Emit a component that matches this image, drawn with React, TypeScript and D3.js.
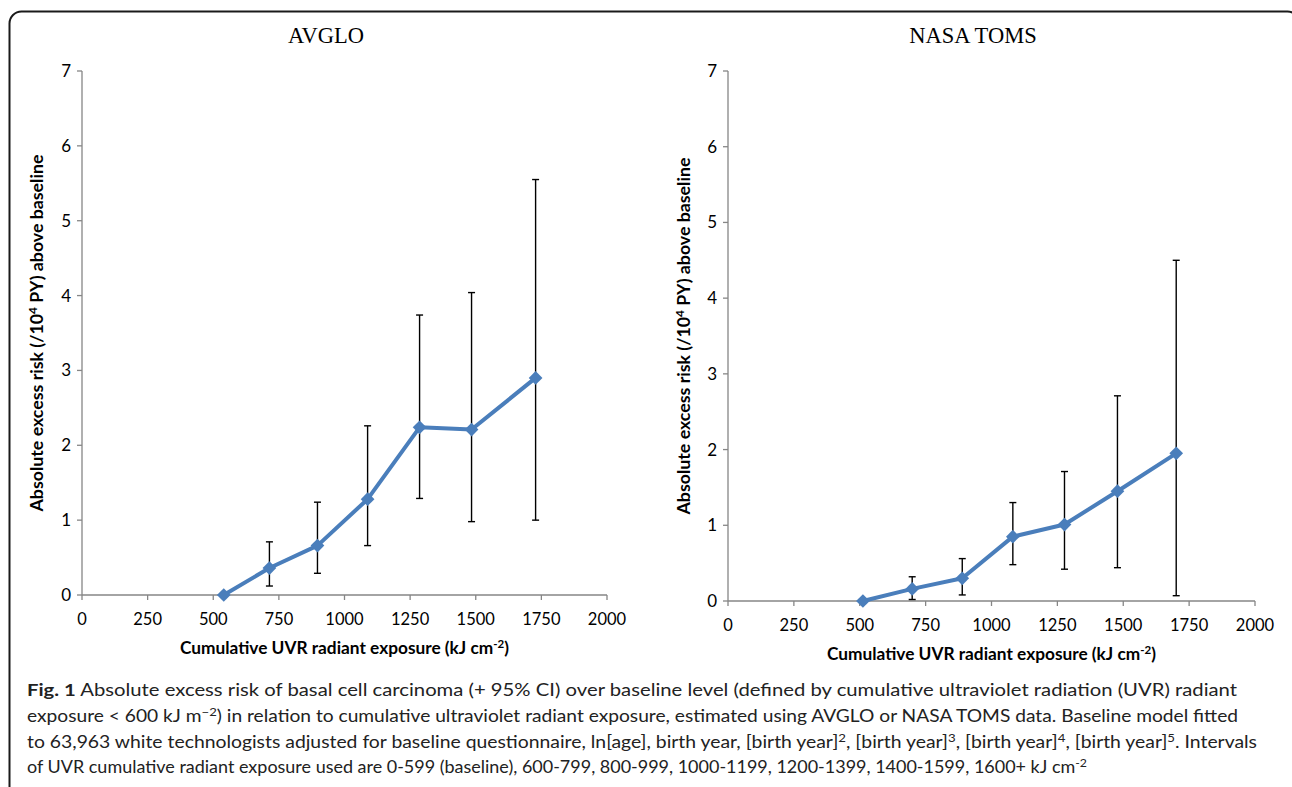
import React from "react";
import * as d3 from "d3";

const xTicks = [0, 250, 500, 750, 1000, 1250, 1500, 1750, 2000];
const yTicks = [0, 1, 2, 3, 4, 5, 6, 7];

const exposureAvglo = [540, 714, 897, 1088, 1286, 1484, 1728];
const riskAvglo = [0, 0.36, 0.66, 1.28, 2.24, 2.21, 2.9];
const lowerAvglo = [null, 0.12, 0.29, 0.66, 1.29, 0.98, 1.0];
const upperAvglo = [null, 0.71, 1.24, 2.26, 3.74, 4.04, 5.55];

const exposureToms = [512, 699, 889, 1081, 1277, 1478, 1701];
const riskToms = [0, 0.16, 0.3, 0.85, 1.01, 1.45, 1.95];
const lowerToms = [null, 0.02, 0.08, 0.48, 0.42, 0.44, 0.07];
const upperToms = [null, 0.32, 0.56, 1.3, 1.71, 2.71, 4.5];

const BLUE = "#4a7ebb";
const AXIS = "#868686";
const LABEL_FONT = "Lato, 'Open Sans', sans-serif";

type PanelProps = {
  title: string;
  xs: number[];
  ys: number[];
  lo: (number | null)[];
  hi: (number | null)[];
  x0: number;
  x1: number;
  y0: number;
  y1: number;
  titleX: number;
  yTitleX: number;
};

function Panel({ title, xs, ys, lo, hi, x0, x1, y0, y1, titleX, yTitleX }: PanelProps) {
  const x = d3.scaleLinear().domain([0, 2000]).range([x0, x1]);
  const y = d3.scaleLinear().domain([0, 7]).range([y0, y1]);
  const line = d3
    .line<number>()
    .x((_, i) => x(xs[i]))
    .y((d) => y(d));
  const diamond = d3.symbol().type(d3.symbolDiamond2).size(120)() as string;
  const xMid = (x0 + x1) / 2;
  const yMid = (y0 + y1) / 2;
  return (
    <g>
      <text
        x={titleX}
        y={43}
        textAnchor="middle"
        fontFamily="'Liberation Serif', 'Times New Roman', serif"
        fontSize={22.5}
        fill="#000"
      >
        {title}
      </text>
      {/* y axis */}
      <line x1={x0} x2={x0} y1={y(7)} y2={y(0)} stroke={AXIS} strokeWidth={1.3} />
      {yTicks.map((t) => (
        <g key={"y" + t}>
          <line x1={x0 - 5} x2={x0} y1={y(t)} y2={y(t)} stroke={AXIS} strokeWidth={1.3} />
          <text
            x={x0 - 11}
            y={y(t)}
            dy="0.35em"
            textAnchor="end"
            fontFamily={LABEL_FONT}
            fontSize={17}
            fill="#000"
          >
            {t}
          </text>
        </g>
      ))}
      {/* x axis */}
      <line x1={x0} x2={x1} y1={y(0)} y2={y(0)} stroke={AXIS} strokeWidth={1.3} />
      {xTicks.map((t) => (
        <g key={"x" + t}>
          <line x1={x(t)} x2={x(t)} y1={y(0)} y2={y(0) + 5} stroke={AXIS} strokeWidth={1.3} />
          <text
            x={x(t)}
            y={y(0) + 30}
            textAnchor="middle"
            fontFamily={LABEL_FONT}
            fontSize={16.5}
            fill="#000"
          >
            {t}
          </text>
        </g>
      ))}
      <text
        x={xMid}
        y={y(0) + 59}
        textAnchor="middle"
        fontFamily={LABEL_FONT}
        fontWeight="bold"
        fontSize={16.5}
        textLength={329}
        lengthAdjust="spacingAndGlyphs"
        fill="#000"
      >
        Cumulative UVR radiant exposure (kJ cm
        <tspan fontSize={11} dy={-6}>-2</tspan>
        <tspan dy={6}>)</tspan>
      </text>
      <text
        transform={`translate(${yTitleX},${yMid}) rotate(-90)`}
        textAnchor="middle"
        fontFamily={LABEL_FONT}
        fontWeight="bold"
        fontSize={16.5}
        textLength={357}
        lengthAdjust="spacingAndGlyphs"
        fill="#000"
      >
        Absolute excess risk (/10
        <tspan fontSize={11} dy={-6}>4</tspan>
        <tspan dy={6}> PY) above baseline</tspan>
      </text>
      {/* error bars */}
      {xs.map((xv, i) =>
        lo[i] === null || hi[i] === null ? null : (
          <g key={"e" + i} stroke="#000" strokeWidth={1.4}>
            <line x1={x(xv)} x2={x(xv)} y1={y(hi[i] as number)} y2={y(lo[i] as number)} />
            <line x1={x(xv) - 3.5} x2={x(xv) + 3.5} y1={y(hi[i] as number)} y2={y(hi[i] as number)} />
            <line x1={x(xv) - 3.5} x2={x(xv) + 3.5} y1={y(lo[i] as number)} y2={y(lo[i] as number)} />
          </g>
        )
      )}
      <path d={line(ys) as string} fill="none" stroke={BLUE} strokeWidth={4} strokeLinejoin="round" />
      {xs.map((xv, i) => (
        <path key={"m" + i} d={diamond} transform={`translate(${x(xv)},${y(ys[i])})`} fill={BLUE} />
      ))}
    </g>
  );
}

const CAP = "Lato, 'Open Sans', sans-serif";

export default function App() {
  return (
    <svg width={1292} height={787} style={{ position: "absolute", left: 0, top: 0, background: "#fff" }}>
      <rect x={9.5} y={11.5} width={1290} height={800} rx={12} fill="#fff" stroke="#1a1a1a" strokeWidth={2} />
      <Panel
        title="AVGLO"
        xs={exposureAvglo}
        ys={riskAvglo}
        lo={lowerAvglo}
        hi={upperAvglo}
        x0={82}
        x1={607}
        y0={595}
        y1={71}
        titleX={326}
        yTitleX={43}
      />
      <Panel
        title="NASA TOMS"
        xs={exposureToms}
        ys={riskToms}
        lo={lowerToms}
        hi={upperToms}
        x0={728}
        x1={1255}
        y0={601}
        y1={71}
        titleX={973}
        yTitleX={690}
      />
      <g fontFamily={CAP} fontSize={17.5} fill="#222">
        <text x={27} y={696} textLength={1210} lengthAdjust="spacingAndGlyphs">
          <tspan fontWeight="bold">Fig. 1</tspan> Absolute excess risk of basal cell carcinoma (+ 95% CI) over baseline level (defined by cumulative ultraviolet radiation (UVR) radiant
        </text>
        <text x={27} y={722} textLength={1211} lengthAdjust="spacingAndGlyphs">
          exposure &lt; 600 kJ m<tspan fontSize={12} dy={-6}>−2</tspan><tspan dy={6}>) in relation to cumulative ultraviolet radiant exposure, estimated using AVGLO or NASA TOMS data. Baseline model fitted</tspan>
        </text>
        <text x={27} y={748} textLength={1230} lengthAdjust="spacingAndGlyphs">
          to 63,963 white technologists adjusted for baseline questionnaire, ln[age], birth year, [birth year]<tspan fontSize={12} dy={-6}>2</tspan><tspan dy={6}>, [birth year]</tspan><tspan fontSize={12} dy={-6}>3</tspan><tspan dy={6}>, [birth year]</tspan><tspan fontSize={12} dy={-6}>4</tspan><tspan dy={6}>, [birth year]</tspan><tspan fontSize={12} dy={-6}>5</tspan><tspan dy={6}>. Intervals</tspan>
        </text>
        <text x={27} y={773} textLength={1060} lengthAdjust="spacingAndGlyphs">
          of UVR cumulative radiant exposure used are 0-599 (baseline), 600-799, 800-999, 1000-1199, 1200-1399, 1400-1599, 1600+ kJ cm<tspan fontSize={12} dy={-6}>-2</tspan>
        </text>
      </g>
    </svg>
  );
}
